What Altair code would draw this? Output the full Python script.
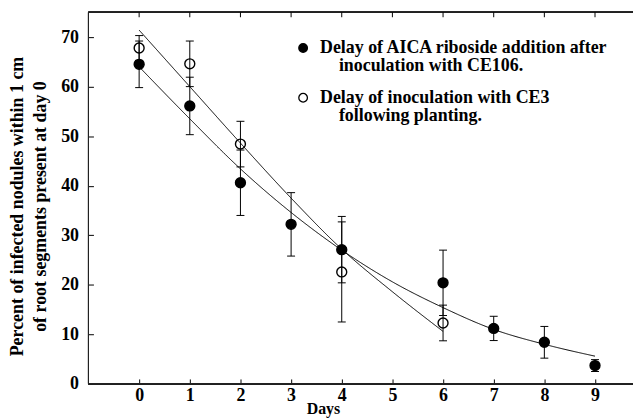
import altair as alt
import pandas as pd

# ---- data ----
legend_first = ["Delay of AICA riboside addition after", "Delay of inoculation with CE3"]
legend_second = ["inoculation with CE106.", "following planting."]

days_a = [0, 1, 2, 3, 4, 6, 7, 8, 9]
mean_a = [64.5, 56.1, 40.6, 32.2, 27.1, 20.4, 11.2, 8.4, 3.7]
err_a = [4.7, 5.8, 6.6, 6.4, 6.7, 6.6, 2.45, 3.2, 1.2]

days_b = [0, 1, 2, 4, 6]
mean_b = [67.8, 64.6, 48.4, 22.6, 12.3]
err_b = [2.5, 4.6, 4.6, 10.1, 3.6]

fit_days_a = [0, 1, 2, 3, 4, 5, 6, 7, 8, 9]
fit_a = [64.0, 53.5, 43.4, 34.6, 27.0, 20.6, 15.4, 11.0, 8.0, 5.6]
fit_days_b = [0, 1, 2, 3, 4, 5, 6]
fit_b = [71.4, 60.0, 48.6, 37.5, 27.2, 18.6, 10.6]

x_ticks = [0, 1, 2, 3, 4, 5, 6, 7, 8, 9]
y_ticks = [0, 10, 20, 30, 40, 50, 60, 70]

y_title = ["Percent of infected nodules within 1 cm", "of root segments present at day 0"]
x_title = "Days"

# ---- tables ----
pts = pd.DataFrame({
    "day": days_a + days_b,
    "pct": mean_a + mean_b,
    "err": err_a + err_b,
    "series": [legend_first[0]] * len(days_a) + [legend_first[1]] * len(days_b),
})
pts["lo"] = pts["pct"] - pts["err"]
pts["hi"] = pts["pct"] + pts["err"]

fits = pd.DataFrame({
    "day": fit_days_a + fit_days_b,
    "pct": fit_a + fit_b,
    "series2": [legend_second[0]] * len(fit_days_a) + [legend_second[1]] * len(fit_days_b),
})

ticks_df = pd.DataFrame({"t": x_ticks})

FONT = "Liberation Serif"
xs = alt.Scale(domain=[-1, 9.75], nice=False, zero=False)
ys = alt.Scale(domain=[0, 75], nice=False, zero=False)

x_axis = alt.Axis(values=x_ticks, orient="bottom", domain=False, grid=False,
                  tickSize=5, offset=-5, tickColor="black", labelPadding=3,
                  labelFont=FONT, labelFontSize=18, labelFontWeight="bold", labelColor="black",
                  title=x_title, titleFont=FONT, titleFontSize=16, titleFontWeight="bold",
                  titleColor="black", titleX=236, titleY=35, titleAlign="center",
                  titleBaseline="alphabetic")
y_axis = alt.Axis(values=y_ticks, domain=False, grid=False,
                  tickSize=5, offset=-5, tickColor="black", labelPadding=10,
                  labelFont=FONT, labelFontSize=18, labelFontWeight="bold", labelColor="black",
                  title=y_title, titleFont=FONT, titleFontSize=18, titleFontWeight="bold",
                  titleColor="black", titleAngle=270, titleX=-71, titleY=195,
                  titleAlign="center", titleBaseline="alphabetic", titleLineHeight=23)

X = alt.X("day:Q", scale=xs, axis=x_axis)
Y = alt.Y("pct:Q", scale=ys, axis=y_axis)

legend_common = dict(orient="none", title=None, labelFont=FONT, labelFontSize=18,
                     labelFontWeight="bold", labelColor="black", labelLimit=600,
                     labelBaseline="middle", rowPadding=32)

lines = alt.Chart(fits).mark_line(color="black", strokeWidth=1, interpolate="monotone").encode(
    x=X, y=Y,
    strokeDash=alt.StrokeDash(
        "series2:N",
        scale=alt.Scale(domain=legend_second, range=[[1, 0], [1, 0]]),
        legend=alt.Legend(legendX=234, legendY=45.5, labelOffset=0,
                          symbolType="stroke", symbolSize=1, symbolOpacity=0,
                          symbolStrokeWidth=0, **legend_common)))

rules = alt.Chart(pts).mark_rule(color="black", strokeWidth=1).encode(
    x=X, y=alt.Y("lo:Q", scale=ys), y2="hi:Q")

cap_lo = alt.Chart(pts).mark_tick(orient="horizontal", size=8, thickness=1, color="black", opacity=1).encode(
    x=X, y=alt.Y("lo:Q", scale=ys))
cap_hi = alt.Chart(pts).mark_tick(orient="horizontal", size=8, thickness=1, color="black", opacity=1).encode(
    x=X, y=alt.Y("hi:Q", scale=ys))

points = alt.Chart(pts).mark_circle(size=100, stroke="black", strokeWidth=1.4, opacity=1).encode(
    x=X, y=Y,
    fill=alt.Fill("series:N", scale=alt.Scale(domain=legend_first, range=["black", "white"]),
                  legend=alt.Legend(legendX=207, legendY=27, labelOffset=8,
                                    symbolType="circle", symbolSize=75,
                                    symbolStrokeColor="black", symbolStrokeWidth=1.3,
                                    **legend_common)))

# frame lines and inward ticks on the top edge
top_line = alt.Chart(pts).mark_rule(color="#222", strokeWidth=1).encode(y=alt.YDatum(75))
bottom_line = alt.Chart(pts).mark_rule(color="#222", strokeWidth=1).encode(y=alt.YDatum(0))
left_line = alt.Chart(pts).mark_rule(color="#222", strokeWidth=1).encode(x=alt.XDatum(-1))
top_ticks = alt.Chart(ticks_df).mark_rule(color="black", strokeWidth=1).encode(
    x=alt.X("t:Q", scale=xs), y=alt.YDatum(75), y2=alt.Y2Datum(74))

chart = alt.layer(points, lines, rules, cap_lo, cap_hi, top_line, bottom_line, left_line,
                  top_ticks).properties(
    width=548, height=374,
    autosize=alt.AutoSizeParams(type="none"),
    padding={"left": 81, "top": 3, "right": 0, "bottom": 34},
    background="white",
).configure_view(stroke=None)

chart.save("out.html", embed_options={"renderer": "svg", "actions": False})
